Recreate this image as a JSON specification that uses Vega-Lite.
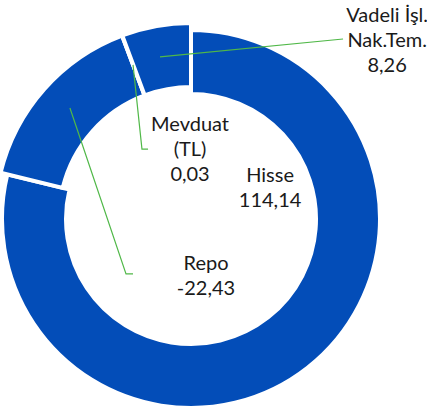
{
  "$schema": "https://vega.github.io/schema/vega-lite/v6.json",
  "width": 382,
  "height": 390,
  "autosize": {"type": "none"},
  "padding": {"left": 0, "top": 24, "right": 45, "bottom": 0},
  "background": "white",
  "config": {"view": {"stroke": null}},
  "datasets": {
    "dilimler": [
      {"kalem": "Hisse", "deger": 114.14, "buyukluk": 114.14, "sira": 1},
      {"kalem": "Repo", "deger": -22.43, "buyukluk": 22.43, "sira": 2},
      {"kalem": "Mevduat (TL)", "deger": 0.03, "buyukluk": 0.03, "sira": 3},
      {"kalem": "Vadeli İşl. Nak.Tem.", "deger": 8.26, "buyukluk": 8.26, "sira": 4}
    ],
    "etiketler": [
      {"metin": "Vadeli İşl.\nNak.Tem.\n8,26", "x": 1.032, "y": 1.037},
      {"metin": "Mevduat\n(TL)\n0,03", "x": -0.005, "y": 0.463},
      {"metin": "Hisse\n114,14", "x": 0.416, "y": 0.195},
      {"metin": "Repo\n-22,43", "x": 0.079, "y": -0.268}
    ],
    "cizgiler": [
      {"grup": "v", "n": 1, "x": 0.8, "y": 0.947},
      {"grup": "v", "n": 2, "x": -0.163, "y": 0.853},
      {"grup": "m", "n": 1, "x": -0.305, "y": 0.811},
      {"grup": "m", "n": 2, "x": -0.258, "y": 0.368},
      {"grup": "m", "n": 3, "x": -0.226, "y": 0.368},
      {"grup": "r", "n": 1, "x": -0.637, "y": 0.584},
      {"grup": "r", "n": 2, "x": -0.342, "y": -0.289},
      {"grup": "r", "n": 3, "x": -0.305, "y": -0.289}
    ]
  },
  "layer": [
    {
      "data": {"name": "dilimler"},
      "mark": {"type": "arc", "outerRadius": 189, "innerRadius": 125, "stroke": "white", "strokeWidth": 4, "color": "#034DB8"},
      "encoding": {
        "theta": {"field": "buyukluk", "type": "quantitative", "stack": true},
        "order": {"field": "sira", "type": "quantitative"},
        "opacity": {"condition": {"test": "datum.kalem === 'Hisse'", "value": 1}, "value": 0}
      }
    },
    {
      "data": {"name": "dilimler"},
      "mark": {"type": "arc", "outerRadius": 196, "innerRadius": 132, "stroke": "white", "strokeWidth": 4, "color": "#034DB8"},
      "encoding": {
        "theta": {"field": "buyukluk", "type": "quantitative", "stack": true},
        "order": {"field": "sira", "type": "quantitative"},
        "opacity": {"condition": {"test": "datum.kalem === 'Hisse'", "value": 0}, "value": 1}
      }
    },
    {
      "data": {"name": "cizgiler"},
      "mark": {"type": "line", "color": "#50B848", "strokeWidth": 1.2},
      "encoding": {
        "x": {"field": "x", "type": "quantitative", "scale": {"domain": [-1.005, 1.005], "nice": false, "zero": false}, "axis": null},
        "y": {"field": "y", "type": "quantitative", "scale": {"domain": [-1.026, 1.026], "nice": false, "zero": false}, "axis": null},
        "detail": {"field": "grup", "type": "nominal"},
        "order": {"field": "n", "type": "quantitative"}
      }
    },
    {
      "data": {"name": "etiketler"},
      "mark": {"type": "text", "align": "center", "baseline": "alphabetic", "lineBreak": "\n", "lineHeight": 25, "font": "Lato", "fontSize": 20, "color": "#1a1a1a"},
      "encoding": {
        "x": {"field": "x", "type": "quantitative", "scale": {"domain": [-1.005, 1.005], "nice": false, "zero": false}, "axis": null},
        "y": {"field": "y", "type": "quantitative", "scale": {"domain": [-1.026, 1.026], "nice": false, "zero": false}, "axis": null},
        "text": {"field": "metin", "type": "nominal"}
      }
    }
  ]
}
